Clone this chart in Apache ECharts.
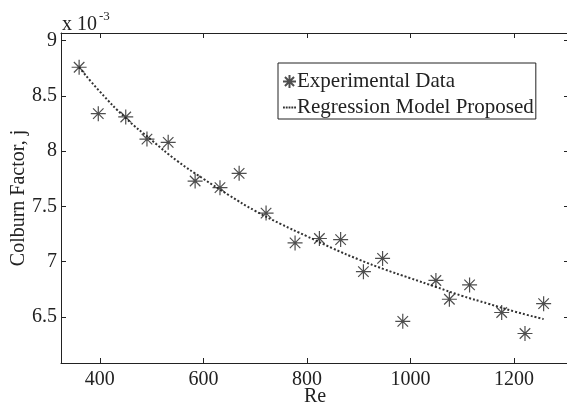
<!DOCTYPE html>
<html>
<head>
<meta charset="utf-8">
<script src="https://cdn.jsdelivr.net/npm/echarts@6/dist/echarts.min.js"></script>
<style>
	html, body { margin: 0; padding: 0; background: #fff; }
	#chart { width: 567px; height: 409px; }
</style>
</head>
<body>
<div id="chart"></div>
<script>
// experimental points (Re, j x 1e-3)
const expRe = [360, 397, 450, 491, 532, 584, 632, 669, 721, 777, 824, 865, 909, 946, 985, 1049, 1075, 1114, 1176, 1221, 1257];
const expJ = [8.76, 8.34, 8.31, 8.11, 8.08, 7.73, 7.67, 7.80, 7.44, 7.17, 7.21, 7.20, 6.91, 7.03, 6.46, 6.83, 6.66, 6.79, 6.54, 6.35, 6.62];
// regression curve
const modelRe = [360, 400, 450, 500, 550, 600, 650, 700, 750, 800, 850, 900, 950, 1000, 1050, 1100, 1150, 1200, 1257];
const modelJ = [8.76, 8.54, 8.30, 8.10, 7.91, 7.75, 7.60, 7.46, 7.34, 7.23, 7.12, 7.02, 6.93, 6.85, 6.77, 6.69, 6.62, 6.55, 6.48];
// ticks
const xTicks = [400, 600, 800, 1000, 1200];
const yTicks = [6.5, 7, 7.5, 8, 8.5, 9];

const font = '"Liberation Serif", "Times New Roman", serif';
const ink = '#222';
const asterisk = 'path://M10,0L10,20M0,10L20,10M3,3L17,17M3,17L17,3';
const dots = 'path://M0,0h2v2h-2zM3,0h2v2h-2zM6,0h2v2h-2zM9,0h2v2h-2zM12,0h2v2h-2z';

const zip = (a, b) => a.map((v, i) => [v, b[i]]);

function xAxis(pos, labels){
	return {
		type: 'value', position: pos, min: 325, max: 1306,
		axisLine: { show: true, lineStyle: { color: ink, width: 1 } },
		axisTick: { show: true, inside: true, length: 5, customValues: xTicks, lineStyle: { color: ink } },
		axisLabel: { show: labels, customValues: xTicks, margin: 7, color: ink, fontFamily: font, fontSize: 20,
			formatter: v => String(v) },
		splitLine: { show: false },
		name: labels ? 'Re' : '', nameLocation: 'middle', nameGap: 24, nameMoveOverlap: false,
		nameTextStyle: { color: ink, fontFamily: font, fontSize: 20 }
	};
}
function yAxis(pos, labels){
	return {
		type: 'value', position: pos, min: 6.083, max: 9.07,
		axisLine: { show: true, lineStyle: { color: ink, width: 1 } },
		axisTick: { show: true, inside: true, length: 5, customValues: yTicks, lineStyle: { color: ink } },
		axisLabel: { show: labels, customValues: yTicks, margin: 4, color: ink, fontFamily: font, fontSize: 20,
			formatter: v => String(v) },
		splitLine: { show: false },
		name: labels ? 'Colburn Factor, j' : '', nameLocation: 'middle', nameGap: 32, nameMoveOverlap: false,
		nameTextStyle: { color: ink, fontFamily: font, fontSize: 20 }
	};
}

const chart = echarts.init(document.getElementById('chart'));
chart.setOption({
	animation: false,
	backgroundColor: '#fff',
	grid: { left: 61, top: 33, width: 508, height: 330, outerBoundsMode: 'none', containLabel: false },
	xAxis: [xAxis('bottom', true), xAxis('top', false)],
	yAxis: [yAxis('left', true), yAxis('right', false)],
	legend: {
		orient: 'vertical', left: 278, top: 63,
		itemWidth: 13, itemHeight: 13, itemGap: 5,
		padding: [8, 2, 1, 4],
		borderColor: ink, borderWidth: 1,
		textStyle: { color: ink, fontFamily: font, fontSize: 21, padding: [0, 0, 0, -4] },
		data: [
			{ name: 'Experimental Data' },
			{ name: 'Regression Model Proposed', icon: dots, itemStyle: { color: '#333' } }
		]
	},
	graphic: [
		{ type: 'text', x: 62, y: 25, style: { text: 'x 10', font: '20px "Liberation Serif"', fill: ink, verticalAlign: 'middle' } },
		{ type: 'text', x: 99, y: 17, style: { text: '-3', font: '13px "Liberation Serif"', fill: ink, verticalAlign: 'middle' } }
	],
	series: [
		{
			name: 'Regression Model Proposed', type: 'line', smooth: true,
			symbol: 'none', z: 1,
			lineStyle: { color: '#333', width: 2, type: 'dotted' },
			itemStyle: { color: '#333' },
			data: zip(modelRe, modelJ)
		},
		{
			name: 'Experimental Data', type: 'scatter', z: 2,
			symbol: asterisk, symbolSize: 15,
			itemStyle: { color: 'transparent', borderColor: ink, borderWidth: 1.2 },
			data: zip(expRe, expJ)
		}
	]
});
</script>
</body>
</html>
